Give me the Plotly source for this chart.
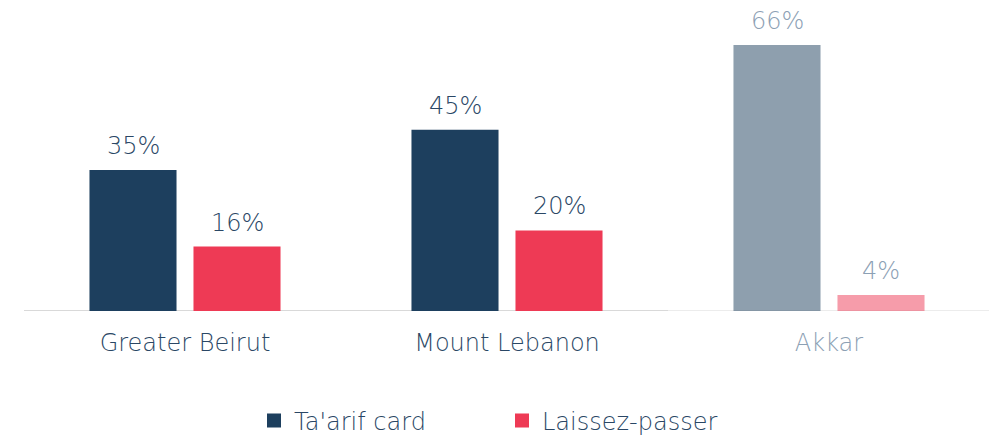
import plotly.graph_objects as go

regions = ["Greater Beirut", "Mount Lebanon", "Akkar"]
taarif = [35, 45, 66]
laissez = [16, 20, 4]
series_names = ["Ta'arif card", "Laissez-passer"]

NAVY = "29,63,94"
RED = "238,58,85"
faded = [False, False, True]

def cols(rgb):
    return [f"rgba({rgb},{0.5 if f else 1})" for f in faded]

TXT = "#2A4765"
TXT_FADED = "#8CA0B4"
FONT = "DejaVu Sans"
FS = 24
WT = 300

W, H = 989, 428  # page body has an 8px margin

fig = go.Figure()
fig.add_trace(go.Bar(x=regions, y=taarif, marker=dict(color=cols(NAVY), line=dict(width=0)),
                     showlegend=False, hoverinfo="skip"))
fig.add_trace(go.Bar(x=regions, y=laissez, marker=dict(color=cols(RED), line=dict(width=0)),
                     showlegend=False, hoverinfo="skip"))
# legend entries
for name, rgb in zip(series_names, [NAVY, RED]):
    fig.add_trace(go.Scatter(x=[None], y=[None], mode="markers", name=name,
                             marker=dict(symbol="square", size=14, color=f"rgb({rgb})")))

for vals, shift in [(taarif, -52), (laissez, 52)]:
    for r, v, f in zip(regions, vals, faded):
        fig.add_annotation(x=r, y=v, text=f"{v}%", showarrow=False, xshift=shift,
                           yanchor="bottom", yshift=8,
                           font=dict(family=FONT, size=FS, weight=WT,
                                     color=TXT_FADED if f else TXT))

ticktext = [f'<span style="color:{TXT_FADED}">{r}</span>' if f else r for r, f in zip(regions, faded)]

fig.update_layout(
    width=W, height=H,
    margin=dict(l=16, r=7, t=2, b=125, autoexpand=False),
    paper_bgcolor="white", plot_bgcolor="white",
    barmode="group", bargap=0.354, bargroupgap=0.163,
    font=dict(family=FONT, size=FS, color=TXT, weight=WT),
    showlegend=True,
    legend=dict(orientation="h", xref="container", yref="container",
                x=246 / W, xanchor="left", y=15 / H, yanchor="middle",
                font=dict(family=FONT, size=FS, color=TXT, weight=WT), entrywidth=203),
    xaxis=dict(showline=False, showgrid=False, zeroline=False, ticks="", automargin=False,
               tickvals=regions, ticktext=ticktext, ticklabelstandoff=15,
               tickfont=dict(family=FONT, size=FS, color=TXT, weight=WT)),
    yaxis=dict(range=[0, 74.7], visible=False, showgrid=False, zeroline=False, automargin=False),
    shapes=[
        dict(type="line", xref="paper", yref="y", x0=0, x1=2/3, y0=0, y1=0,
             line=dict(color="#D9D9D9", width=2), layer="below"),
        dict(type="line", xref="paper", yref="y", x0=2/3, x1=1, y0=0, y1=0,
             line=dict(color="#ECECEC", width=2), layer="below"),
    ],
)

fig.write_html("out.html")
